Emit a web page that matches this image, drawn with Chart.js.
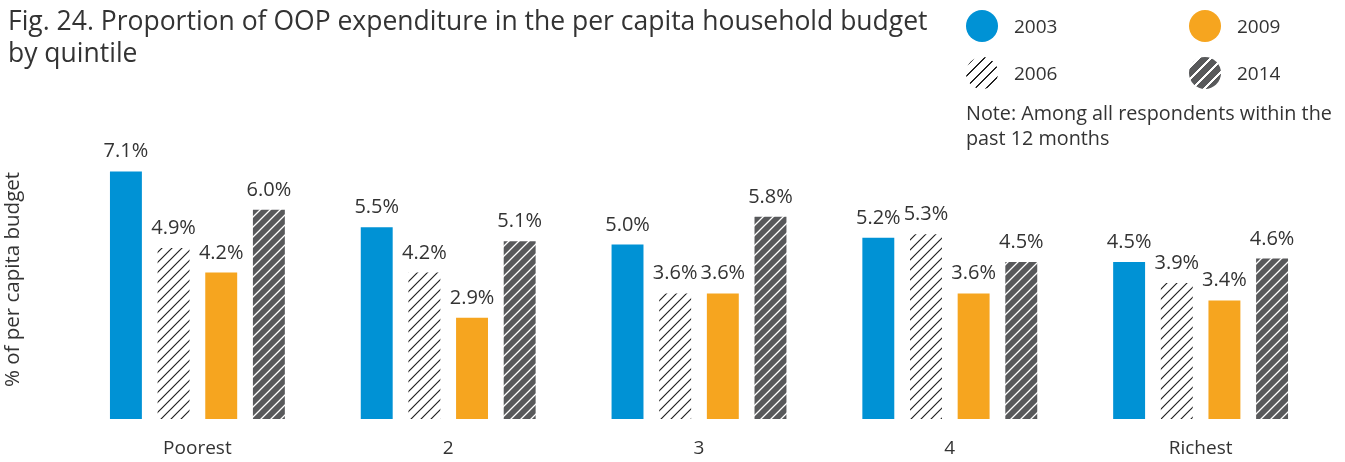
<!DOCTYPE html>
<html>
<head>
<meta charset="utf-8">
<script src="https://cdn.jsdelivr.net/npm/chart.js@4/dist/chart.umd.min.js"></script>
<style>
  html, body { margin: 0; padding: 0; background: #fff; }
  #wrap { position: relative; width: 1345px; height: 462px; overflow: hidden; }
  canvas { position: absolute; left: 0; top: 0; }
  .leg { position: absolute; font-family: 'Open Sans', sans-serif; color: #333; font-size: 19px; line-height: 32px; }
  .sw { position: absolute; width: 32px; height: 32px; border-radius: 50%; }
  .note { position: absolute; left: 966px; top: 100px; font-family: 'Open Sans', sans-serif; color: #333; font-size: 19.8px; line-height: 25px; white-space: nowrap; }
</style>
</head>
<body>
<div id="wrap">
  <canvas id="c" width="1345" height="462"></canvas>
  <div class="sw" style="left:966px; top:10px; background:#0092D5;"></div>
  <div class="leg" style="left:1014px; top:10px;">2003</div>
  <div class="sw" style="left:1189px; top:10px; background:#F6A51F;"></div>
  <div class="leg" style="left:1237px; top:10px;">2009</div>
  <div class="sw" style="left:966px; top:57px; background:repeating-linear-gradient(135deg, #fff 0 6px, #222 6px 7.4px);"></div>
  <div class="leg" style="left:1014px; top:57px;">2006</div>
  <div class="sw" style="left:1189px; top:57px; background:repeating-linear-gradient(135deg, #58595B 0 7px, #fff 7px 8.5px);"></div>
  <div class="leg" style="left:1237px; top:57px;">2014</div>
  <div class="note">Note: Among all respondents within the<br>past 12 months</div>
</div>
<script>
const categories = ['Poorest', '2', '3', '4', 'Richest'];
const seriesNames = ['2003', '2006', '2009', '2014'];
const values2003 = [7.1, 5.5, 5.0, 5.2, 4.5];
const values2006 = [4.9, 4.2, 3.6, 5.3, 3.9];
const values2009 = [4.2, 2.9, 3.6, 3.6, 3.4];
const values2014 = [6.0, 5.1, 5.8, 4.5, 4.6];

function hatch(bg, fg, lw, size) {
  const c = document.createElement('canvas');
  c.width = size; c.height = size;
  const x = c.getContext('2d');
  x.fillStyle = bg; x.fillRect(0, 0, size, size);
  x.strokeStyle = fg; x.lineWidth = lw;
  x.beginPath();
  x.moveTo(-1, size + 1); x.lineTo(size + 1, -1);
  x.moveTo(-1, 1); x.lineTo(1, -1);
  x.moveTo(size - 1, size + 1); x.lineTo(size + 1, size - 1);
  x.stroke();
  return x.createPattern(c, 'repeat');
}
const ctx = document.getElementById('c').getContext('2d');
const pat2006 = hatch('#ffffff', '#222222', 1.2, 10);
const pat2014 = hatch('#58595B', '#ffffff', 1.3, 10);

const labelPlugin = {
  id: 'barLabels',
  afterDatasetsDraw(chart) {
    const c = chart.ctx;
    c.save();
    c.font = '20px "Open Sans", sans-serif';
    c.fillStyle = '#333333';
    c.textAlign = 'center';
    c.textBaseline = 'alphabetic';
    chart.data.datasets.forEach((ds, i) => {
      const meta = chart.getDatasetMeta(i);
      meta.data.forEach((el, j) => {
        c.fillText(ds.data[j].toFixed(1) + '%', el.x, el.y - 14);
      });
    });
    c.restore();
  }
};

new Chart(ctx, {
  type: 'bar',
  data: {
    labels: categories,
    datasets: [
      { label: seriesNames[0], data: values2003, backgroundColor: '#0092D5' },
      { label: seriesNames[1], data: values2006, backgroundColor: pat2006 },
      { label: seriesNames[2], data: values2009, backgroundColor: '#F6A51F' },
      { label: seriesNames[3], data: values2014, backgroundColor: pat2014 }
    ]
  },
  options: {
    responsive: false,
    animation: false,
    events: [],
    layout: { padding: { left: 8, right: 19, top: 0, bottom: 0 } },
    datasets: { bar: { categoryPercentage: 0.76, barPercentage: 0.67 } },
    plugins: {
      legend: { display: false },
      tooltip: { enabled: false },
      title: {
        display: true,
        text: ['Fig. 24. Proportion of OOP expenditure in the per capita household budget', 'by quintile'],
        align: 'start',
        color: '#333333',
        font: { family: '"Open Sans", sans-serif', size: 26.5, weight: 'normal', lineHeight: 1.23 },
        padding: { top: 5.7, bottom: 69.1 }
      }
    },
    scales: {
      x: {
        grid: { display: false, drawTicks: false },
        border: { display: false },
        ticks: { color: '#333333', font: { family: '"Open Sans", sans-serif', size: 19 }, padding: 18 },
        afterFit(s) { s.height = 43; }
      },
      y: {
        min: 0, max: 8,
        grid: { display: false, drawTicks: false },
        border: { display: false },
        ticks: { display: false },
        title: { display: true, text: '% of per capita budget', color: '#333333', font: { family: '"Open Sans", sans-serif', size: 20.5 }, padding: { top: -7, bottom: 0 } },
        afterFit(s) { s.width = 64; }
      }
    }
  },
  plugins: [labelPlugin]
});
</script>
</body>
</html>
